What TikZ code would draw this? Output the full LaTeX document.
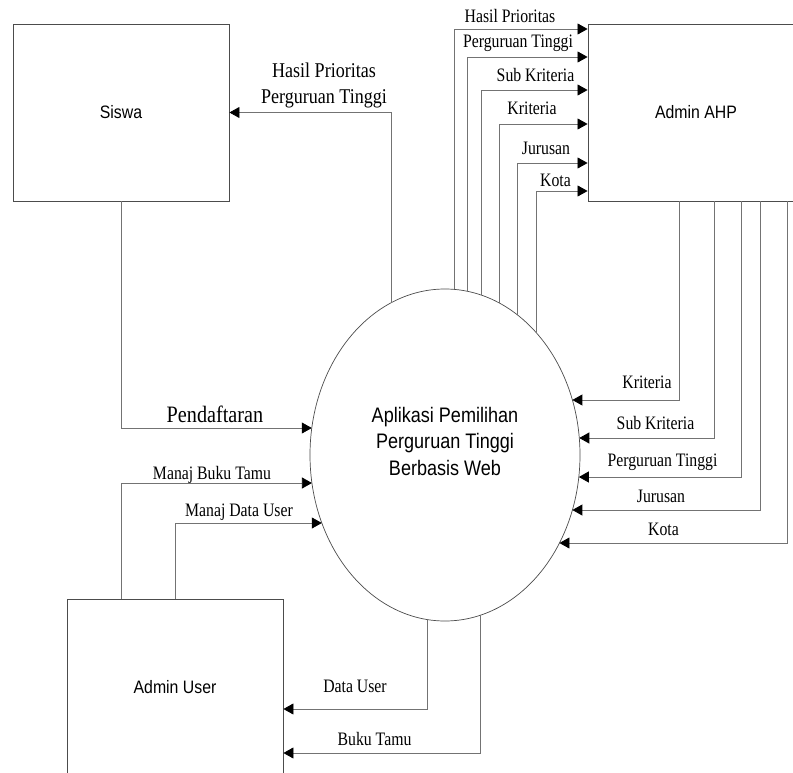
\documentclass[tikz,border=0pt]{standalone}
\usepackage{fontspec}
\setmainfont{Liberation Serif}
\newfontfamily\lbl[FakeStretch=0.83]{Liberation Serif}
\newfontfamily\lblw[FakeStretch=0.86]{Liberation Serif}
\newfontfamily\boxf[FakeStretch=0.88]{Liberation Sans}
\newfontfamily\procf[FakeStretch=0.86]{Liberation Sans}
\usetikzlibrary{arrows.meta,shapes.geometric,intersections}
\newcommand\onE[3]{\path[name path=aux] #2 -- #3; \path[name intersections={of=E and aux,by={#1}}];}
\begin{document}
\begin{tikzpicture}[x=1pt,y=-1pt,
  entity/.style={draw=black!70, line width=0.9pt, minimum width=216pt, minimum height=177pt, inner sep=0pt, font=\boxf\fontsize{18}{22}\selectfont},
  proc/.style={ellipse, draw=black!70, line width=0.7pt, minimum width=270pt, minimum height=332pt, inner sep=0pt},
  proctext/.style={align=center, inner sep=0pt, font=\procf\fontsize{21}{26.5}\selectfont},
  flow/.style={draw=black!55, line width=0.8pt, -{Triangle[length=10pt,width=11pt,color=black]}},
  lab/.style={font=\lbl\fontsize{19}{23}\selectfont, anchor=base, inner sep=0pt},
  labw/.style={font=\lblw\fontsize{21}{26}\selectfont, align=center, inner sep=0pt},
  labp/.style={font=\lblw\fontsize{23.5}{28}\selectfont, anchor=base, inner sep=0pt},
]
\useasboundingbox (0,0) rectangle (793,773);
\clip (0,0) rectangle (793,773);
\fill[white] (0,0) rectangle (793,773);

% entities and process
\node[entity] (siswa) at (121,112.5) {Siswa};
\node[entity] (ahp) at (696,112.5) {Admin AHP};
\node[entity] (user) at (175,687.5) {Admin User};
\node[proc] (e) at (445,455) {};
\node[proctext] (etext) at (445,441) {Aplikasi Pemilihan\\Perguruan Tinggi\\Berbasis Web};
\path[name path=E] (e.center) ellipse [x radius=135pt, y radius=166pt];

% border points on the process
\onE{t0}{(391,455)}{(391,0)}
\onE{t1}{(454,455)}{(454,0)}
\onE{t2}{(467,455)}{(467,0)}
\onE{t3}{(481,455)}{(481,0)}
\onE{t4}{(499,455)}{(499,0)}
\onE{t5}{(517,455)}{(517,0)}
\onE{t6}{(536,455)}{(536,0)}
\onE{r1}{(445,400)}{(800,400)}
\onE{r2}{(445,438)}{(800,438)}
\onE{r3}{(445,477)}{(800,477)}
\onE{r4}{(445,510)}{(800,510)}
\onE{r5}{(445,543)}{(800,543)}
\onE{l1}{(445,428)}{(0,428)}
\onE{l2}{(445,483)}{(0,483)}
\onE{l3}{(445,523)}{(0,523)}
\onE{b1}{(427,455)}{(427,800)}
\onE{b2}{(480,455)}{(480,800)}

% Siswa
\draw[flow] (t0) |- (siswa.east);
\node[labw] (lhp) at (324,85) {Hasil Prioritas\\Perguruan Tinggi};
\draw[flow] (siswa.south) |- (l1);
\node[labp] (lpd) at (215,422) {Pendaftaran};

% Admin User
\draw[flow] (user.north -| 121,0) |- (l2);
\node[lab] (lmbt) at (212,479) {Manaj Buku Tamu};
\draw[flow] (user.north -| 175,0) |- (l3);
\node[lab] (lmdu) at (239,516) {Manaj Data User};
\draw[flow] (b1) |- (user.east |- 0,709);
\node[lab] (ldu) at (355,692) {Data User};
\draw[flow] (b2) |- (user.east |- 0,753);
\node[lab] (lbt) at (374.5,745) {Buku Tamu};

% to Admin AHP
\draw[flow] (t1) |- (ahp.west |- 0,29);
\node[lab] (a1) at (510,23) {Hasil Prioritas};
\draw[flow] (t2) |- (ahp.west |- 0,57);
\node[lab] (a2) at (518,48) {Perguruan Tinggi};
\draw[flow] (t3) |- (ahp.west |- 0,90);
\node[lab] (a3) at (535.5,82) {Sub Kriteria};
\draw[flow] (t4) |- (ahp.west |- 0,124);
\node[lab] (a4) at (532,115) {Kriteria};
\draw[flow] (t5) |- (ahp.west |- 0,163);
\node[lab] (a5) at (546,155) {Jurusan};
\draw[flow] (t6) |- (ahp.west |- 0,191);
\node[lab] (a6) at (555.5,186) {Kota};

% from Admin AHP
\draw[flow] (ahp.south -| 679,0) |- (r1);
\node[lab] (b1l) at (647,388) {Kriteria};
\draw[flow] (ahp.south -| 714,0) |- (r2);
\node[lab] (b2l) at (655.5,429) {Sub Kriteria};
\draw[flow] (ahp.south -| 741,0) |- (r3);
\node[lab] (b3l) at (662.5,466) {Perguruan Tinggi};
\draw[flow] (ahp.south -| 760,0) |- (r4);
\node[lab] (b4l) at (661,502) {Jurusan};
\draw[flow] (ahp.south -| 787,0) |- (r5);
\node[lab] (b5l) at (663.5,535) {Kota};
\end{tikzpicture}
\end{document}
